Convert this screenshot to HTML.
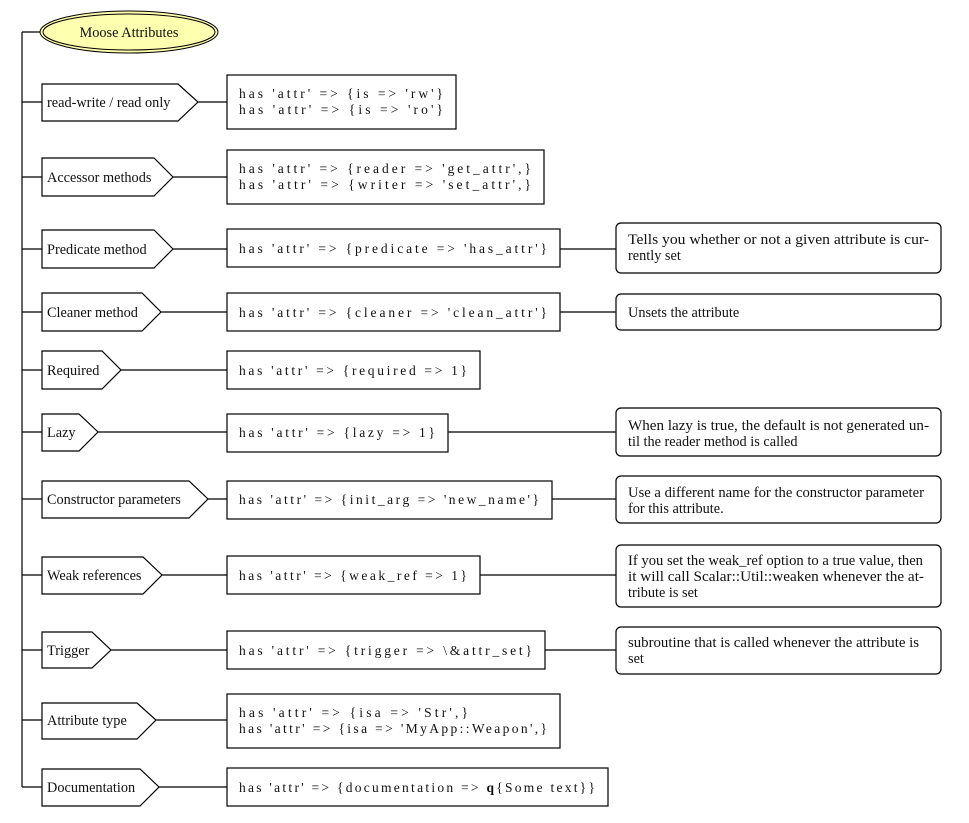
<!DOCTYPE html>
<html><head><meta charset="utf-8"><style>
body{margin:0;background:#fff}
svg{display:block}
text{font-family:"Liberation Serif",serif;font-size:14.3px;fill:#111}
.c text{font-size:13.5px}
</style></head><body>
<svg width="969" height="823" viewBox="0 0 969 823" xmlns="http://www.w3.org/2000/svg">
<g stroke="#000" stroke-width="1.2" fill="none">
<path d="M22 32V787"/>
<path d="M22 32H42"/>
<path d="M22 102H42M198 102H227"/>
<path d="M22 177H42M173 177H227"/>
<path d="M22 249H42M173 249H227M560 249H616"/>
<path d="M22 312H42M161 312H227M560 312H616"/>
<path d="M22 370H42M121 370H227"/>
<path d="M22 432H42M98 432H227M448 432H616"/>
<path d="M22 499H42M208 499H227M552 499H616"/>
<path d="M22 575H42M162 575H227M480 575H616"/>
<path d="M22 650H42M111 650H227M545 650H616"/>
<path d="M22 720H42M156 720H227"/>
<path d="M22 787H42M159 787H227"/>
<path d="M42 84H178L198 102L178 121H42Z"/>
<path d="M42 158H154L173 177L154 196H42Z"/>
<path d="M42 230H154L173 249L154 268H42Z"/>
<path d="M42 293H142L161 312L142 331H42Z"/>
<path d="M42 351H102L121 370L102 389H42Z"/>
<path d="M42 414H79L98 432L79 451H42Z"/>
<path d="M42 481H189L208 499L189 518H42Z"/>
<path d="M42 557H143L162 575L143 594H42Z"/>
<path d="M42 632H92L111 650L92 668H42Z"/>
<path d="M42 703H137L156 720L137 739H42Z"/>
<path d="M42 769H140L159 787L140 806H42Z"/>
<rect x="227" y="75" width="229" height="54"/>
<rect x="227" y="150" width="317" height="54"/>
<rect x="227" y="229" width="333" height="38"/>
<rect x="227" y="293" width="333" height="38"/>
<rect x="227" y="351" width="253" height="38"/>
<rect x="227" y="414" width="221" height="38"/>
<rect x="227" y="481" width="325" height="38"/>
<rect x="227" y="556" width="253" height="38"/>
<rect x="227" y="631" width="318" height="38"/>
<rect x="227" y="694" width="333" height="54"/>
<rect x="227" y="768" width="381" height="38"/>
<rect x="616" y="223" width="325" height="50" rx="5"/>
<rect x="616" y="294" width="325" height="36" rx="5"/>
<rect x="616" y="408" width="325" height="48" rx="5"/>
<rect x="616" y="476" width="325" height="47" rx="5"/>
<rect x="616" y="545" width="325" height="62" rx="5"/>
<rect x="616" y="627" width="325" height="47" rx="5"/>
</g>
<ellipse cx="129" cy="32" rx="89" ry="21" fill="#ffffb0" stroke="#000" stroke-width="1"/>
<ellipse cx="129" cy="32" rx="86" ry="18" fill="none" stroke="#000" stroke-width="1"/>
<text x="129" y="37" text-anchor="middle">Moose Attributes</text>

<text x="47" y="107">read-write / read only</text>
<text x="47" y="182">Accessor methods</text>
<text x="47" y="254">Predicate method</text>
<text x="47" y="317">Cleaner method</text>
<text x="47" y="375">Required</text>
<text x="47" y="437">Lazy</text>
<text x="47" y="504">Constructor parameters</text>
<text x="47" y="580">Weak references</text>
<text x="47" y="655">Trigger</text>
<text x="47" y="725">Attribute type</text>
<text x="47" y="792">Documentation</text>

<g class="c">
<text x="239" y="98" textLength="204" lengthAdjust="spacing">has 'attr' =&gt; {is =&gt; 'rw'}</text>
<text x="239" y="114" textLength="204" lengthAdjust="spacing">has 'attr' =&gt; {is =&gt; 'ro'}</text>
<text x="239" y="173" textLength="292" lengthAdjust="spacing">has 'attr' =&gt; {reader =&gt; 'get_attr',}</text>
<text x="239" y="189" textLength="292" lengthAdjust="spacing">has 'attr' =&gt; {writer =&gt; 'set_attr',}</text>
<text x="239" y="253" textLength="308" lengthAdjust="spacing">has 'attr' =&gt; {predicate =&gt; 'has_attr'}</text>
<text x="239" y="317" textLength="308" lengthAdjust="spacing">has 'attr' =&gt; {cleaner =&gt; 'clean_attr'}</text>
<text x="239" y="375" textLength="228" lengthAdjust="spacing">has 'attr' =&gt; {required =&gt; 1}</text>
<text x="239" y="437" textLength="196" lengthAdjust="spacing">has 'attr' =&gt; {lazy =&gt; 1}</text>
<text x="239" y="504" textLength="300" lengthAdjust="spacing">has 'attr' =&gt; {init_arg =&gt; 'new_name'}</text>
<text x="239" y="580" textLength="228" lengthAdjust="spacing">has 'attr' =&gt; {weak_ref =&gt; 1}</text>
<text x="239" y="655" textLength="293" lengthAdjust="spacing">has 'attr' =&gt; {trigger =&gt; \&amp;attr_set}</text>
<text x="239" y="717" textLength="229" lengthAdjust="spacing">has 'attr' =&gt; {isa =&gt; 'Str',}</text>
<text x="239" y="733" textLength="308" lengthAdjust="spacing">has 'attr' =&gt; {isa =&gt; 'MyApp::Weapon',}</text>
<text x="239" y="792" textLength="356" lengthAdjust="spacing">has 'attr' =&gt; {documentation =&gt; <tspan font-weight="bold">q</tspan>{Some text}}</text>
</g>

<text x="628" y="244" textLength="301" lengthAdjust="spacingAndGlyphs">Tells you whether or not a given attribute is cur-</text>
<text x="628" y="260">rently set</text>
<text x="628" y="317">Unsets the attribute</text>
<text x="628" y="430" textLength="301" lengthAdjust="spacingAndGlyphs">When lazy is true, the default is not generated un-</text>
<text x="628" y="446">til the reader method is called</text>
<text x="628" y="497" textLength="296" lengthAdjust="spacingAndGlyphs">Use a different name for the constructor parameter</text>
<text x="628" y="513">for this attribute.</text>
<text x="628" y="565" textLength="295" lengthAdjust="spacingAndGlyphs">If you set the weak_ref option to a true value, then</text>
<text x="628" y="581" textLength="296" lengthAdjust="spacingAndGlyphs">it will call Scalar::Util::weaken whenever the at-</text>
<text x="628" y="597">tribute is set</text>
<text x="628" y="647" textLength="291" lengthAdjust="spacingAndGlyphs">subroutine that is called whenever the attribute is</text>
<text x="628" y="663">set</text>
</svg>
</body></html>
